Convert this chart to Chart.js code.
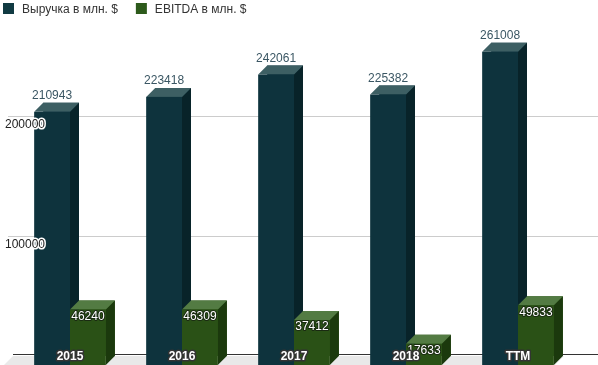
<!DOCTYPE html>
<html>
<head>
<meta charset="utf-8">
<script src="https://cdn.jsdelivr.net/npm/chart.js@4.4.0/dist/chart.umd.min.js"></script>
<style>
  html, body { margin: 0; padding: 0; background: #fff; }
  #wrap { width: 598px; height: 365px; }
</style>
</head>
<body>
<div id="wrap"><canvas id="chart"></canvas></div>
<script>
const categories = ["2015", "2016", "2017", "2018", "TTM"];
const revenue = [210943, 223418, 242061, 225382, 261008];
const ebitda = [46240, 46309, 37412, 17633, 49833];
const seriesNames = ["Выручка в млн. $", "EBITDA в млн. $"];
const yTicks = [100000, 200000];

const FONT = '"Liberation Sans", Arial, sans-serif';
const DEPTH = 9;

// front / top / side colours per series
const faces = [
  { front: "#0e333d", top: "#3d5f63", side: "#082329", legend: "#113a42" },
  { front: "#2a5116", top: "#537b43", side: "#1b390d", legend: "#2d5a1b" }
];

function haloText(ctx, text, x, y, fill, stroke, lw) {
  ctx.lineJoin = "round";
  ctx.lineWidth = lw;
  ctx.strokeStyle = stroke;
  ctx.strokeText(text, x, y);
  ctx.fillStyle = fill;
  ctx.fillText(text, x, y);
}

const bars3d = {
  id: "bars3d",
  beforeDatasetsDraw(chart) {
    const ctx = chart.ctx;
    const y = chart.scales.y;
    const zero = y.getPixelForValue(0);
    ctx.save();
    // grid lines on the back wall
    ctx.strokeStyle = "#cccccc";
    ctx.lineWidth = 1;
    yTicks.forEach(v => {
      const py = Math.round(y.getPixelForValue(v)) + 0.5;
      ctx.beginPath();
      ctx.moveTo(8, py);
      ctx.lineTo(598, py);
      ctx.stroke();
    });
    // floor
    ctx.fillStyle = "#e9e9e9";
    ctx.beginPath();
    ctx.moveTo(13, zero);
    ctx.lineTo(564, zero);
    ctx.lineTo(564 - DEPTH, zero + DEPTH);
    ctx.lineTo(13 - DEPTH, zero + DEPTH);
    ctx.closePath();
    ctx.fill();
    ctx.strokeStyle = "#333333";
    ctx.beginPath();
    ctx.moveTo(13, Math.round(zero) - 1.5);
    ctx.lineTo(598, Math.round(zero) - 1.5);
    ctx.stroke();
    ctx.restore();
  },
  afterDatasetsDraw(chart) {
    const ctx = chart.ctx;
    const metas = chart.data.datasets.map((d, i) => chart.getDatasetMeta(i));
    ctx.save();
    for (let i = 0; i < categories.length; i++) {
      metas.forEach((meta, s) => {
        const bar = meta.data[i];
        const f = faces[s];
        const bl = bar.x - bar.width / 2, br = bar.x + bar.width / 2;
        const bt = bar.y, bb = bar.base;
        const fl = bl - DEPTH, fr = br - DEPTH, ft = bt + DEPTH, fb = bb + DEPTH;
        // side
        ctx.fillStyle = f.side;
        ctx.beginPath();
        ctx.moveTo(fr, ft); ctx.lineTo(br, bt); ctx.lineTo(br, bb); ctx.lineTo(fr, fb);
        ctx.closePath(); ctx.fill();
        // top
        ctx.fillStyle = f.top;
        ctx.beginPath();
        ctx.moveTo(fl, ft); ctx.lineTo(bl, bt); ctx.lineTo(br, bt); ctx.lineTo(fr, ft);
        ctx.closePath(); ctx.fill();
        // front
        ctx.fillStyle = f.front;
        ctx.fillRect(fl, ft, fr - fl, fb - ft);
      });
    }
    // value labels
    metas.forEach((meta, s) => {
      const vals = chart.data.datasets[s].data;
      meta.data.forEach((bar, i) => {
        const cx = bar.x - DEPTH;
        ctx.textAlign = "center";
        ctx.font = "12px " + FONT;
        if (s === 0) {
          ctx.textBaseline = "alphabetic";
          ctx.fillStyle = "#3a5663";
          ctx.fillText(String(vals[i]), cx, bar.y - 4);
        } else {
          ctx.textBaseline = "top";
          haloText(ctx, String(vals[i]), cx, bar.y + DEPTH + 1, "#ffffff", "#1a2a12", 2);
        }
      });
    });
    // y labels
    const y = chart.scales.y;
    ctx.font = "12px " + FONT;
    ctx.textAlign = "left";
    ctx.textBaseline = "middle";
    yTicks.forEach(v => {
      haloText(ctx, String(v), 5, y.getPixelForValue(v) + DEPTH, "#222222", "#ffffff", 3);
    });
    // category labels
    const x = chart.scales.x;
    ctx.font = "bold 12px " + FONT;
    ctx.textAlign = "center";
    ctx.textBaseline = "middle";
    categories.forEach((c, i) => {
      haloText(ctx, c, x.getPixelForValue(i) - DEPTH, y.getPixelForValue(0) + 1, "#ffffff", "#333333", 3);
    });
    // legend
    ctx.textAlign = "left";
    ctx.textBaseline = "alphabetic";
    ctx.font = "12px " + FONT;
    let lx = 3;
    chart.data.datasets.forEach((d, s) => {
      ctx.fillStyle = faces[s].legend;
      ctx.fillRect(lx, 3, 11, 11);
      ctx.fillStyle = "#333333";
      const tx = lx + 19;
      ctx.fillText(d.label, tx, 13);
      lx = tx + ctx.measureText(d.label).width + 18;
    });
    ctx.restore();
  }
};

new Chart(document.getElementById("chart"), {
  type: "bar",
  data: {
    labels: categories,
    datasets: [
      { label: seriesNames[0], data: revenue, backgroundColor: faces[0].front },
      { label: seriesNames[1], data: ebitda, backgroundColor: faces[1].front }
    ]
  },
  options: {
    responsive: true,
    maintainAspectRatio: false,
    animation: false,
    layout: { padding: { left: 23, right: 15, top: 20, bottom: 9 } },
    plugins: { legend: { display: false }, tooltip: { enabled: false } },
    datasets: { bar: { categoryPercentage: 0.64, barPercentage: 1 } },
    scales: {
      x: { display: false },
      y: { display: false, min: 0, max: 280000 }
    }
  },
  plugins: [bars3d]
});
</script>
</body>
</html>
